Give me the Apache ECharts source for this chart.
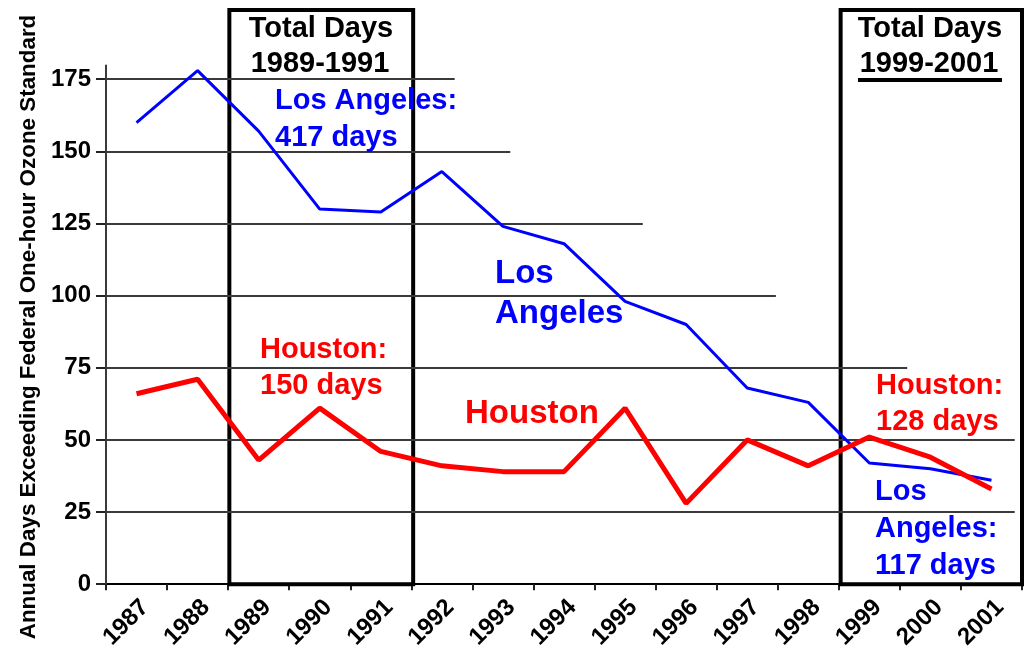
<!DOCTYPE html>
<html><head><meta charset="utf-8">
<script src="https://cdn.jsdelivr.net/npm/echarts@6/dist/echarts.min.js"></script>
<style>html,body{margin:0;padding:0;background:#fff}#c{width:1029px;height:652px}</style>
</head><body><div id="c"></div>
<script>
// ---- data ----
const years = ['1987','1988','1989','1990','1991','1992','1993','1994','1995','1996','1997','1998','1999','2000','2001'];
const losAngeles = [160,178,157,130,129,143,124,118,98,90,68,63,42,40,36];
const houston    = [66,71,43,61,46,41,39,39,61,28,50,41,51,44,33];
const yTickValues = [0,25,50,75,100,125,150,175];
const yAxisTitle = 'Annual Days Exceeding Federal One-hour Ozone Standard';
const boxTitles = [['Total Days','1989-1991'],['Total Days','1999-2001']];

// ---- layout / style (not data) ----
const FONT = '"Liberation Sans", Arial, sans-serif';
const gridStyle = {left:106, right:7, top:10, bottom:67};
const gridRuns = [[175,5.71],[150,6.62],[125,8.79],[100,10.97],[75,13.12],[50,14.88],[25,14.88]];
const boxSpans = [[2.02,5.03],[12.03,15]];
const Y_TOP = 199;

const gridLineData = gridRuns.map(([v,end]) => [{coord:[0,v]},{coord:[end,v]}]);
gridLineData.push([{coord:[0,0]},{coord:[0,180]}]);

function txt(text, x, y, size, color, align){
  return {type:'text', x:x, y:y, silent:true, z:100,
    style:{text:text, fill:color, font:'bold '+size+'px '+FONT,
      align:align||'left', verticalAlign:'middle', textAlign:align||'left', textVerticalAlign:'middle'}};
}

const option = {
  animation:false,
  backgroundColor:'#fff',
  grid: gridStyle,
  xAxis: [{
    type:'category', data:years, boundaryGap:true,
    axisLine:{show:true, lineStyle:{color:'#000', width:2}},
    axisTick:{show:true, length:6, lineStyle:{color:'#222', width:2}, alignWithLabel:false},
    axisLabel:{rotate:45, margin:11, verticalAlign:'top', color:'#000', fontWeight:'bold', fontSize:24, fontFamily:FONT, interval:0},
    splitLine:{show:false}
  },{
    type:'value', min:0, max:15, show:false
  }],
  yAxis: [{
    type:'value', min:0, max:Y_TOP,
    axisLine:{show:false},
    axisTick:{show:true, length:10, customValues:yTickValues, lineStyle:{color:'#222', width:2}},
    axisLabel:{customValues:yTickValues, margin:15, color:'#000', fontWeight:'bold', fontSize:24, fontFamily:FONT},
    splitLine:{show:false}
  }],
  series: [
    {
      type:'line', xAxisIndex:1, yAxisIndex:0, data:[], clip:false, silent:true, z:1,
      markLine:{silent:true, symbol:['none','none'], label:{show:false},
        lineStyle:{color:'#3a3a3a', width:2, type:'solid'}, data:gridLineData},
      markArea:{silent:true, itemStyle:{color:'rgba(0,0,0,0)', borderColor:'#000', borderWidth:4},
        label:{show:false},
        data: boxSpans.map(([a,b]) => [{coord:[a,0]},{coord:[b,Y_TOP]}])}
    },
    {
      name:'Los Angeles', type:'line', data:losAngeles, symbol:'none', z:5,
      lineStyle:{color:'#0000ff', width:3}, itemStyle:{color:'#0000ff'}
    },
    {
      name:'Houston', type:'line', data:houston, symbol:'none', z:6,
      lineStyle:{color:'#ff0000', width:5}, itemStyle:{color:'#ff0000'}
    }
  ],
  graphic: [
    {type:'text', x:29, y:327, rotation:Math.PI/2, silent:true,
      style:{text:yAxisTitle, fill:'#000', font:'bold 22.4px '+FONT, align:'center', verticalAlign:'middle', textAlign:'center', textVerticalAlign:'middle'}},
    txt(boxTitles[0][0], 321, 29, 29, '#000', 'center'),
    txt(boxTitles[0][1], 320, 64, 29, '#000', 'center'),
    txt(boxTitles[1][0], 930, 29, 29, '#000', 'center'),
    txt(boxTitles[1][1], 929, 64, 29, '#000', 'center'),
    {type:'line', silent:true, shape:{x1:858, y1:80, x2:1002, y2:80}, style:{stroke:'#000', lineWidth:4}},
    txt('Los Angeles:', 275, 101, 29, '#0000ff'),
    txt('417 days', 275, 138, 29, '#0000ff'),
    txt('Los', 495, 274, 33, '#0000ff'),
    txt('Angeles', 495, 314, 33, '#0000ff'),
    txt('Houston:', 260, 350, 29, '#ff0000'),
    txt('150 days', 260, 386, 29, '#ff0000'),
    txt('Houston', 465, 414, 33, '#ff0000'),
    txt('Houston:', 876, 386, 29, '#ff0000'),
    txt('128 days', 876, 422, 29, '#ff0000'),
    txt('Los', 875, 492, 29, '#0000ff'),
    txt('Angeles:', 875, 529, 29, '#0000ff'),
    txt('117 days', 875, 566, 29, '#0000ff')
  ]
};
const chart = echarts.init(document.getElementById('c'), null, {renderer:'canvas'});
chart.setOption(option);
</script></body></html>
